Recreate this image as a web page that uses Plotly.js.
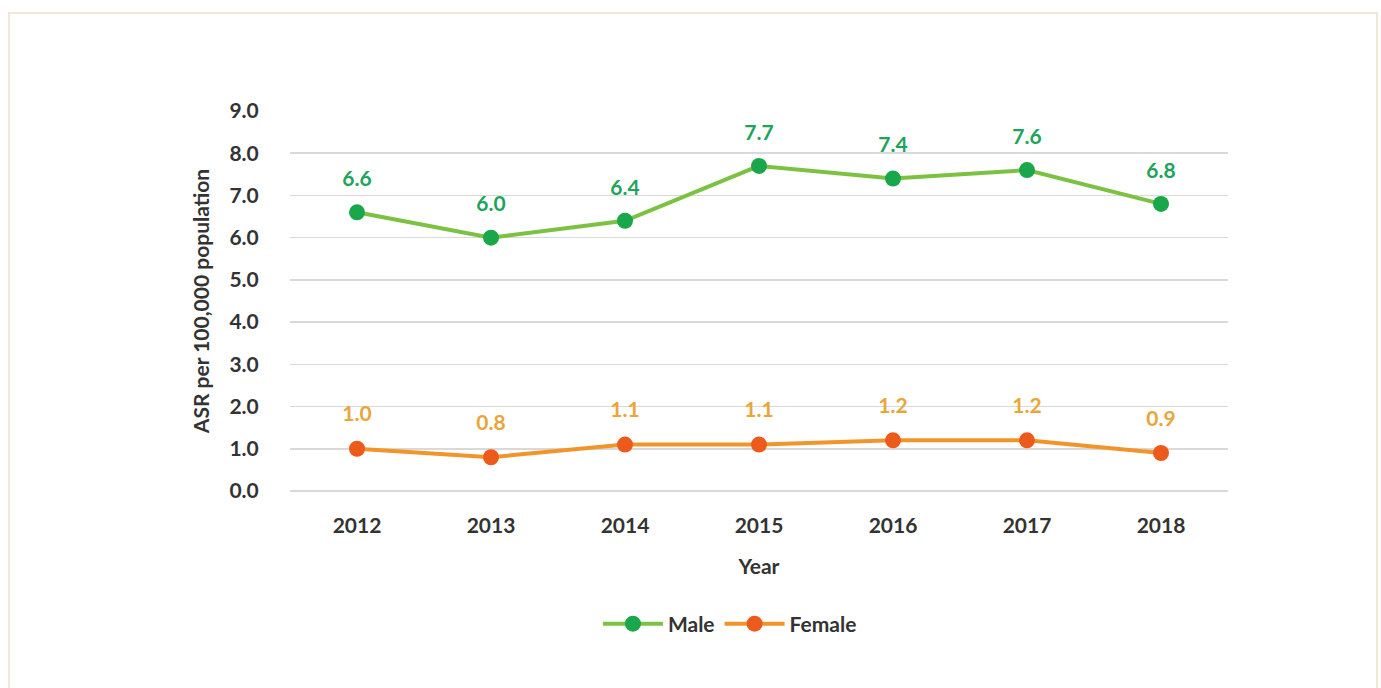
<!DOCTYPE html>
<html><head><meta charset="utf-8">
<script src="https://cdn.plot.ly/plotly-3.0.1.min.js"></script>
<style>
html,body{margin:0;padding:0;background:#fff;}
#frame{position:absolute;left:8px;top:12px;width:1370px;height:690px;border:2px solid #f3e6d6;box-sizing:border-box;}
#chart{position:absolute;left:0;top:0;width:1381px;height:688px;}
</style></head>
<body>
<div id="frame"></div>
<div id="chart"></div>
<script>
const years = ['2012','2013','2014','2015','2016','2017','2018'];
const male = [6.6, 6.0, 6.4, 7.7, 7.4, 7.6, 6.8];
const female = [1.0, 0.8, 1.1, 1.1, 1.2, 1.2, 0.9];
const yTicks = [0,1,2,3,4,5,6,7,8,9];

const font = 'Lato, "Open Sans", sans-serif';
const traces = [
  {x: years, y: male, name: 'Male', type: 'scatter', mode: 'lines+markers',
   line: {color: '#7cc242', width: 4}, marker: {color: '#1aa64a', size: 16}},
  {x: years, y: female, name: 'Female', type: 'scatter', mode: 'lines+markers',
   line: {color: '#f1952b', width: 4}, marker: {color: '#ec5a1c', size: 16}},
  {x: years, y: male, type: 'scatter', mode: 'markers+text', showlegend: false, hoverinfo: 'skip',
   marker: {size: 32, opacity: 0, color: '#fff'}, texttemplate: '%{y:.1f}', textposition: 'top center',
   textfont: {family: font, size: 21, color: '#1ea35c', weight: 'bold'}},
  {x: years, y: female, type: 'scatter', mode: 'markers+text', showlegend: false, hoverinfo: 'skip',
   marker: {size: 34, opacity: 0, color: '#fff'}, texttemplate: '%{y:.1f}', textposition: 'top center',
   textfont: {family: font, size: 21, color: '#eaa53a', weight: 'bold'}}
];
traces.forEach(t => t.cliponaxis = false);
const layout = {
  width: 1381, height: 688,
  paper_bgcolor: 'rgba(0,0,0,0)', plot_bgcolor: 'rgba(0,0,0,0)',
  margin: {l: 290, r: 153, t: 111, b: 197},
  font: {family: font, color: '#333'},
  showlegend: true,
  legend: {orientation: 'h', x: 0.469, xanchor: 'center', y: -0.35, yanchor: 'middle', itemwidth: 60,
    font: {family: font, size: 21, color: '#333', weight: 'bold'}},
  xaxis: {type: 'category', range: [-0.5, 6.5], showgrid: false, zeroline: false,
    showline: false, ticks: 'outside', ticklen: 16, tickcolor: 'rgba(0,0,0,0)',
    tickfont: {family: font, size: 21, color: '#333', weight: 'bold'},
    title: {text: 'Year', font: {family: font, size: 21, color: '#333', weight: 'bold'}, standoff: 23}},
  yaxis: {range: [0, 9], tickvals: yTicks, ticktext: yTicks.map(v => v.toFixed(1)),
    showgrid: true, gridcolor: '#d9d9d9', gridwidth: 1.5, zeroline: true, zerolinecolor: '#d9d9d9', zerolinewidth: 1.5,
    showline: false, ticks: 'outside', ticklen: 26, tickcolor: 'rgba(0,0,0,0)',
    tickfont: {family: font, size: 21, color: '#333', weight: 'bold'},
    title: {text: 'ASR per 100,000 population', font: {family: font, size: 21, color: '#333', weight: 'bold'}, standoff: 14}}
};
Plotly.newPlot('chart', traces, layout, {displayModeBar: false, staticPlot: true});
</script>
</body></html>
